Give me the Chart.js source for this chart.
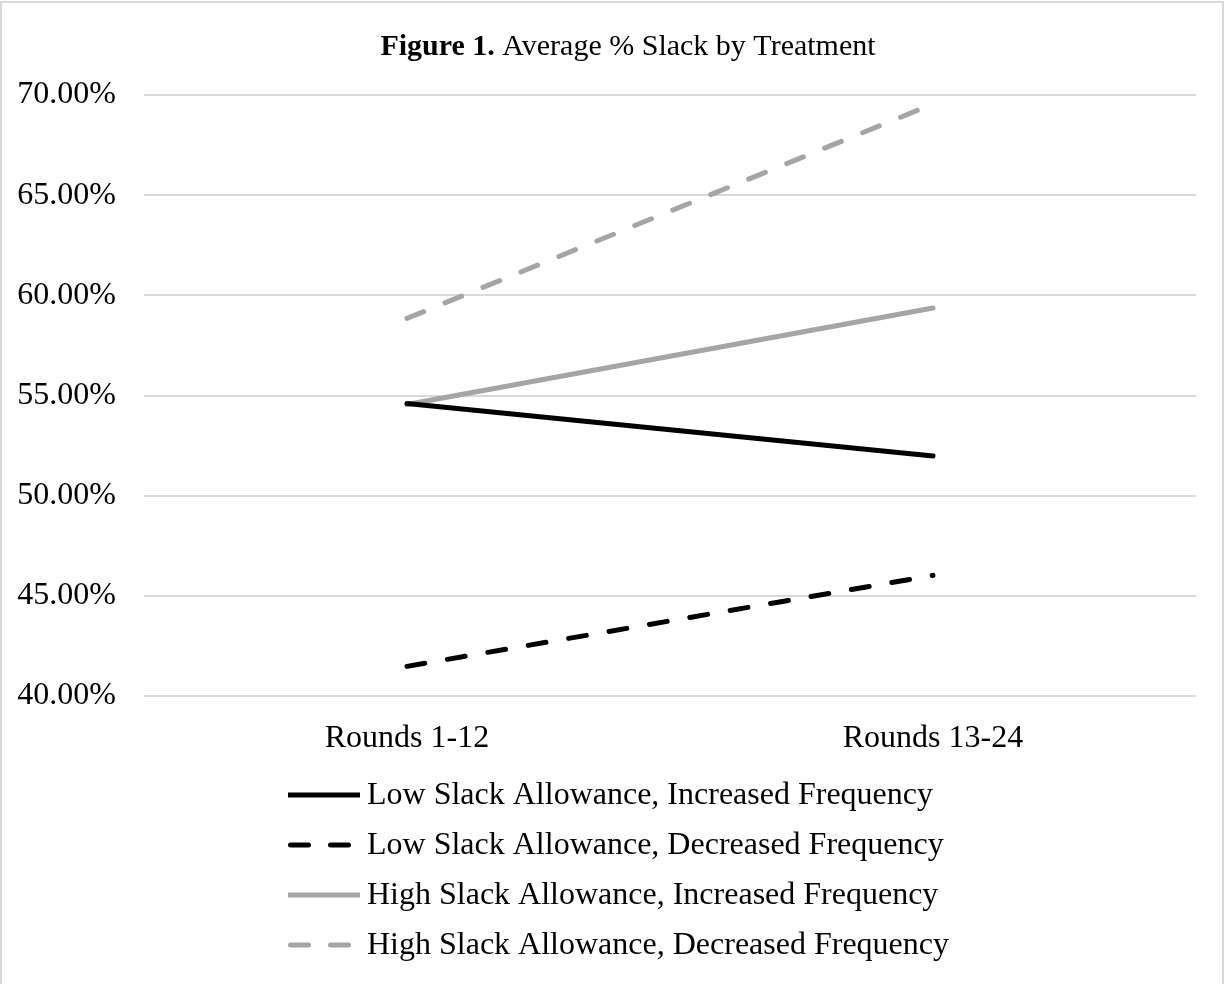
<!DOCTYPE html>
<html>
<head>
<meta charset="utf-8">
<script src="https://cdn.jsdelivr.net/npm/chart.js@4/dist/chart.umd.min.js"></script>
<style>
  html, body { margin: 0; padding: 0; background: #ffffff; }
  canvas { display: block; }
</style>
</head>
<body>
<canvas id="chart" width="1225" height="984"></canvas>
<script>
// Categories and series (average % slack per treatment)
const categories = ['Rounds 1-12', 'Rounds 13-24'];
const lowSlackIncreased = [54.60, 51.98];
const lowSlackDecreased = [41.48, 46.02];
const highSlackIncreased = [54.55, 59.37];
const highSlackDecreased = [58.85, 69.55];
const seriesNames = [
  'Low Slack Allowance, Increased Frequency',
  'Low Slack Allowance, Decreased Frequency',
  'High Slack Allowance, Increased Frequency',
  'High Slack Allowance, Decreased Frequency'
];
const yTicks = [40, 45, 50, 55, 60, 65, 70];

const FONT = '"Liberation Serif", "Times New Roman", serif';
const BLACK = '#000000';
const GRAY = '#a5a5a5';
const DASH = [18, 23];

// White page, thin frame and the mixed bold/regular title
const framePlugin = {
  id: 'frame',
  beforeDraw(chart) {
    const ctx = chart.ctx;
    ctx.save();
    ctx.fillStyle = '#ffffff';
    ctx.fillRect(0, 0, chart.width, chart.height);
    ctx.strokeStyle = '#d9d9d9';
    ctx.lineWidth = 2;
    ctx.strokeRect(1, 2, chart.width - 3, chart.height + 10);
    ctx.restore();
  },
  afterDraw(chart) {
    const ctx = chart.ctx;
    ctx.save();
    const bold = 'Figure 1.';
    const rest = ' Average % Slack by Treatment';
    ctx.textBaseline = 'alphabetic';
    ctx.font = 'bold 30px ' + FONT;
    const wb = ctx.measureText(bold).width;
    ctx.font = '30px ' + FONT;
    const wr = ctx.measureText(rest).width;
    const cx = 628;
    let x = cx - (wb + wr) / 2;
    ctx.fillStyle = '#000000';
    ctx.font = 'bold 30px ' + FONT;
    ctx.fillText(bold, x, 55);
    ctx.font = '30px ' + FONT;
    ctx.fillText(rest, x + wb, 55);
    ctx.restore();
  }
};

// Stacked legend: one entry per row, left aligned
const stackedLegend = {
  id: 'stackedLegend',
  afterDraw(chart) {
    const ctx = chart.ctx;
    const x0 = 288, x1 = 360, textX = 367;
    const rowY = [795, 845, 895, 945];
    ctx.save();
    ctx.font = '32px ' + FONT;
    ctx.textBaseline = 'middle';
    ctx.textAlign = 'left';
    chart.data.datasets.forEach((ds, i) => {
      const y = rowY[i];
      const dashed = ds.borderDash && ds.borderDash.length;
      ctx.beginPath();
      ctx.strokeStyle = ds.borderColor;
      ctx.lineWidth = ds.borderWidth;
      ctx.lineCap = dashed ? 'round' : 'butt';
      ctx.setLineDash(dashed ? [18, 22] : []);
      ctx.moveTo(x0 + (dashed ? 2.5 : 0), y);
      ctx.lineTo(x1, y);
      ctx.stroke();
      ctx.setLineDash([]);
      ctx.fillStyle = '#000000';
      ctx.fillText(ds.label, textX, y + 1);
    });
    ctx.restore();
  }
};

function series(label, data, color, dashed) {
  return {
    label: label,
    data: data,
    borderColor: color,
    backgroundColor: color,
    borderWidth: 5,
    borderDash: dashed ? DASH : [],
    borderCapStyle: 'round',
    pointRadius: 0,
    pointHoverRadius: 0,
    fill: false,
    tension: 0
  };
}

new Chart(document.getElementById('chart'), {
  type: 'line',
  data: {
    labels: categories,
    datasets: [
      series(seriesNames[0], lowSlackIncreased, BLACK, false),
      series(seriesNames[1], lowSlackDecreased, BLACK, true),
      series(seriesNames[2], highSlackIncreased, GRAY, false),
      series(seriesNames[3], highSlackDecreased, GRAY, true)
    ]
  },
  options: {
    responsive: false,
    animation: false,
    devicePixelRatio: 1,
    layout: { padding: { top: 95, right: 29, bottom: 0, left: 0 } },
    plugins: {
      legend: { display: false },
      title: { display: false },
      tooltip: { enabled: false }
    },
    scales: {
      x: {
        offset: true,
        grid: { display: false, drawTicks: false },
        border: { display: false },
        ticks: {
          color: '#000000',
          font: { family: FONT, size: 32 },
          padding: 23,
          maxRotation: 0
        },
        afterFit(scale) { scale.height = 288; }
      },
      y: {
        min: yTicks[0],
        max: yTicks[yTicks.length - 1],
        afterBuildTicks(scale) { scale.ticks = yTicks.map(v => ({ value: v })); },
        grid: { color: '#d9d9d9', lineWidth: 2, drawTicks: false },
        border: { display: false },
        ticks: {
          color: '#000000',
          font: { family: FONT, size: 32 },
          padding: 28,
          callback: v => v.toFixed(2) + '%'
        },
        afterFit(scale) { scale.width = 144; }
      }
    }
  },
  plugins: [framePlugin, stackedLegend]
});
</script>
</body>
</html>
